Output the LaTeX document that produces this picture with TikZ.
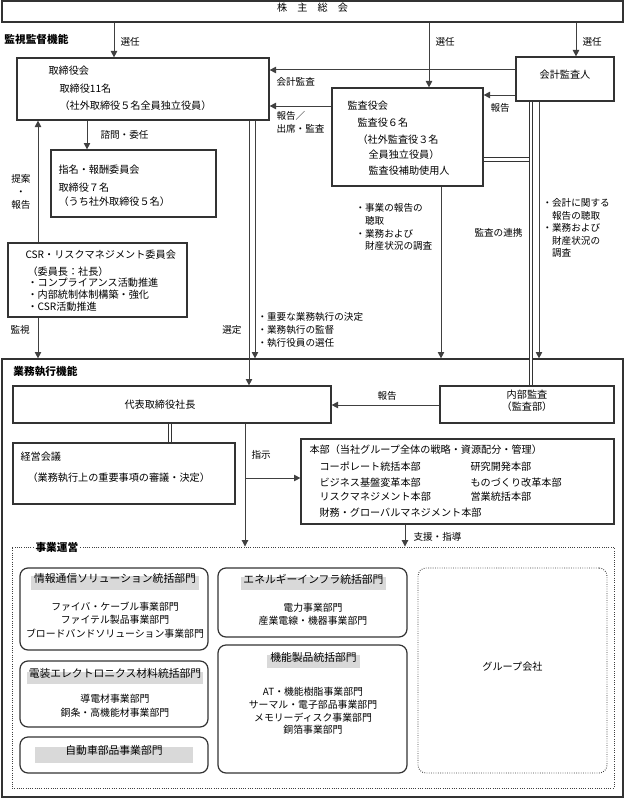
\documentclass[tikz,border=0pt]{standalone}
\usepackage{fontspec}
\setmainfont{Noto Sans CJK JP}
\usetikzlibrary{arrows.meta,fit}

\newcommand{\boxfont}{\fontsize{7.6}{9}\selectfont}
\newcommand{\lblfont}{\fontsize{7.2}{9.6}\selectfont}
\newcommand{\headfont}{\fontsize{8.1}{10}\selectfont}
\newcommand{\titlefont}{\fontsize{8}{10}\selectfont\bfseries}

\tikzset{every picture/.style={line width=0.75pt}}
\tikzset{
  boxframe/.style={draw=black!80, line width=0.9pt, inner sep=0pt, font=\boxfont},
  roundframe/.style={boxframe, rounded corners=6pt},
  dotframe/.style={draw=black!75, dash pattern=on 0.6pt off 1.1pt, line width=0.7pt, inner sep=0pt, font=\boxfont},
  txt/.style={anchor=west, inner sep=0.75pt, align=left, font=\boxfont},
  lbl/.style={anchor=west, inner sep=0.75pt, align=left, font=\lblfont},
  headbar/.style={fill=black!15, inner sep=0pt, font=\headfont},
  arr/.style={draw=black!75, -{Triangle[length=4.8pt,width=4.8pt]}},
  dbl/.style={draw=black!80, line width=0.6pt, double, double distance=2pt},
}

\begin{document}
\begin{tikzpicture}[x=0.75pt,y=0.75pt,yscale=-1,xscale=1]
\useasboundingbox (0,0) rectangle (625,799);

%Shape: Rectangle
\node[boxframe, fit={(2,1) (623,22)}] (kabu) {株　主　総　会};
%Shape: Rectangle
\node[boxframe, fit={(17,58) (269,120)}] (tori) {};
%Shape: Rectangle
\node[boxframe, fit={(516,57) (614,101)}] (kaikei) {会計監査人};
%Shape: Rectangle
\node[boxframe, fit={(332,88) (483,186)}] (kansa) {};
%Shape: Rectangle
\node[boxframe, fit={(51,150) (216,217)}] (shimei) {};
%Shape: Rectangle
\node[boxframe, fit={(8,243) (187,317)}] (csr) {};
%Shape: Rectangle
\node[boxframe, fit={(2,359) (623,797)}] (shikkou) {};
%Shape: Rectangle
\node[boxframe, fit={(13,386) (331,423)}] (daihyo) {};
%Shape: Rectangle
\node[boxframe, fit={(440,386) (614,423)}, align=center] (naibu) {内部監査\\（監査部）};
%Shape: Rectangle
\node[boxframe, fit={(13,443) (235,504)}] (keiei) {};
%Shape: Rectangle
\node[boxframe, fit={(301,439) (614,524)}] (honbu) {};
%Shape: Rectangle
\node[dotframe, fit={(12,547) (614,788)}] (jigyo) {};
%Shape: Rounded Rect
\node[roundframe, fit={(20,568) (208,650)}] (joho) {};
%Shape: Rounded Rect
\node[roundframe, fit={(20,661) (208,727)}] (denso) {};
%Shape: Rounded Rect
\node[roundframe, fit={(20,737) (208,773)}] (jidosha) {};
%Shape: Rounded Rect
\node[roundframe, fit={(218,568) (407,637)}] (energy) {};
%Shape: Rounded Rect
\node[roundframe, fit={(218,645) (407,773)}] (kino) {};
%Shape: Rounded Rect
\node[dotframe, rounded corners=6pt, fit={(418,568) (607,773)}] (group) {グループ会社};

% Text Node
\node[txt, font=\titlefont] (kanshititle) at (3,39) {監視監督機能};
% Text Node
\node[txt, font=\titlefont] (shikkoutitle) at (12,372) {業務執行機能};
% Text Node
\node[txt, font=\titlefont, fill=white, inner sep=1.5pt] (jigyotitle) at (33,547) {事業運営};

% Text Node
\node[txt] (tori1) at (47,71) {取締役会};
\node[txt] (tori2) at (58,89) {取締役11名};
\node[txt] (tori3) at (58,106) {（社外取締役５名全員独立役員）};
% Text Node
\node[txt] (kansa1) at (346,106) {監査役会};
\node[txt] (kansa2) at (356,123) {監査役６名};
\node[txt] (kansa3) at (356,140) {（社外監査役３名};
\node[txt] (kansa4) at (367,155) {全員独立役員）};
\node[txt] (kansa5) at (367,171) {監査役補助使用人};
% Text Node
\node[txt] (shimei1) at (57,170) {指名・報酬委員会};
\node[txt] (shimei2) at (57,188) {取締役７名};
\node[txt] (shimei3) at (57,202) {（うち社外取締役５名）};
% Text Node
\node[txt] (csr1) at (24,255) {CSR・リスクマネジメント委員会};
\node[txt] (csr2) at (26,272) {（委員長：社長）};
\node[txt] (csr3) at (26,283) {・コンプライアンス活動推進};
\node[txt] (csr4) at (26,295) {・内部統制体制構築・強化};
\node[txt] (csr5) at (26,307) {・CSR活動推進};
% Text Node
\node[txt, anchor=center] (daihyo1) at (160,405) {代表取締役社長};
% Text Node
\node[txt] (keiei1) at (19,457) {経営会議};
\node[txt] (keiei2) at (26,478) {（業務執行上の重要事項の審議・決定）};
% Text Node
\node[txt] (honbu0) at (308,450) {本部（当社グループ全体の戦略・資源配分・管理）};
\node[txt] (honbu1) at (318,467) {コーポレート統括本部};
\node[txt] (honbu2) at (318,483) {ビジネス基盤変革本部};
\node[txt] (honbu3) at (318,497) {リスクマネジメント本部};
\node[txt] (honbu4) at (318,513) {財務・グローバルマネジメント本部};
\node[txt] (honbu5) at (469,467) {研究開発本部};
\node[txt] (honbu6) at (469,483) {ものづくり改革本部};
\node[txt] (honbu7) at (469,497) {営業統括本部};

% Header Bars
\node[headbar, fit={(31,576) (199,590)}] (johohead) {情報通信ソリューション統括部門};
\node[headbar, fit={(27,672) (203,684)}] (densohead) {電装エレクトロニクス材料統括部門};
\node[headbar, fit={(35,747) (193,763)}] (jidoshahead) {自動車部品事業部門};
\node[headbar, fit={(241,577) (386,590)}] (energyhead) {エネルギーインフラ統括部門};
\node[headbar, fit={(267,655) (360,668)}] (kinohead) {機能製品統括部門};
% Text Node
\node[txt, anchor=center, align=center, font=\fontsize{7.4}{10}\selectfont] (joho1) at (115,620) {ファイバ・ケーブル事業部門\\ファイテル製品事業部門\\ブロードバンドソリューション事業部門};
\node[txt, anchor=center, align=center, font=\fontsize{7.4}{10.4}\selectfont] (denso1) at (115,706) {導電材事業部門\\銅条・高機能材事業部門};
\node[txt, anchor=center, align=center, font=\fontsize{7.4}{9.4}\selectfont] (energy1) at (313,614) {電力事業部門\\産業電線・機器事業部門};
\node[txt, anchor=center, align=center, font=\fontsize{7.4}{9.6}\selectfont] (kino1) at (313,711) {AT・機能樹脂事業部門\\サーマル・電子部品事業部門\\メモリーディスク事業部門\\銅箔事業部門};

% Connectors
\draw[arr] (114,0 |- kabu.south) -- (114,0 |- tori.north);
\draw[arr] (429,0 |- kabu.south) -- (429,0 |- kansa.north);
\draw[arr] (576,0 |- kabu.south) -- (576,0 |- kaikei.north);
\draw[arr] (kaikei.west |- 0,70) -- (tori.east |- 0,70);
\draw[arr] (kaikei.west |- 0,95) -- (kansa.east |- 0,95);
\draw[arr] (kansa.west |- 0,106) -- (tori.east |- 0,106);
\draw[arr] (87,0 |- tori.south) -- (87,0 |- shimei.north);
\draw[arr] (38,0 |- csr.north) -- (38,0 |- tori.south);
\draw[arr] (38,0 |- csr.south) -- (38,0 |- shikkou.north);
\draw[arr] (249,0 |- tori.south) -- (249,0 |- daihyo.north);
\draw[arr] (255,0 |- tori.south) -- (255,0 |- shikkou.north);
\draw[arr] (441,0 |- kansa.south) -- (441,0 |- shikkou.north);
\draw[arr] (539,0 |- kaikei.south) -- (539,0 |- shikkou.north);
\draw[arr] (naibu.west |- 0,405) -- (daihyo.east |- 0,405);
\draw[arr] (245,0 |- daihyo.south) -- (245,0 |- jigyo.north);
\coordinate (shijibranch) at (245,478);
\draw[arr] (shijibranch) -- (honbu.west |- shijibranch);
\draw[arr] (405,0 |- honbu.south) -- (405,0 |- jigyo.north);
% Double Lines
\coordinate (renkei) at (529.3,159.5);
\draw[dbl] (kansa.east |- renkei) -- (renkei);
\draw[dbl] (531,0 |- kaikei.south) -- (531,0 |- naibu.north);
\draw[dbl] (170,0 |- daihyo.south) -- (170,0 |- keiei.north);

% Labels
\node[lbl] (sennin1) at (119,42) {選任};
\node[lbl] (sennin2) at (434,42) {選任};
\node[lbl] (sennin3) at (581,42) {選任};
\node[lbl] (kaikeikansa) at (275,82) {会計監査};
\node[lbl] (hokoku1) at (489,108) {報告};
\node[lbl] (hokoku2) at (275,122) {報告／\\出席・監査};
\node[lbl] (shimon) at (99,135) {諮問・委任};
\node[lbl, anchor=center, align=center] (teian) at (21,192) {提案\\・\\報告};
\node[lbl] (kanshi) at (9,330) {監視};
\node[lbl, anchor=east] (sentei) at (243,330) {選定};
\node[lbl, font=\fontsize{7.2}{9.8}\selectfont] (toriduty) at (256,330) {・重要な業務執行の決定\\・業務執行の監督\\・執行役員の選任};
\node[lbl, font=\fontsize{7.2}{9.6}\selectfont] (kansaduty) at (354,227) {・事業の報告の\\　聴取\\・業務および\\　財産状況の調査};
\node[lbl, anchor=east] (renkeilbl) at (524,233) {監査の連携};
\node[lbl, font=\fontsize{7.2}{9.4}\selectfont] (kaikeiduty) at (541,228) {・会計に関する\\　報告の聴取\\・業務および\\　財産状況の\\　調査};
\node[lbl] (hokoku3) at (376,396) {報告};
\node[lbl] (shiji) at (250,455) {指示};
\node[lbl] (shien) at (412,537) {支援・指導};

\end{tikzpicture}
\end{document}
